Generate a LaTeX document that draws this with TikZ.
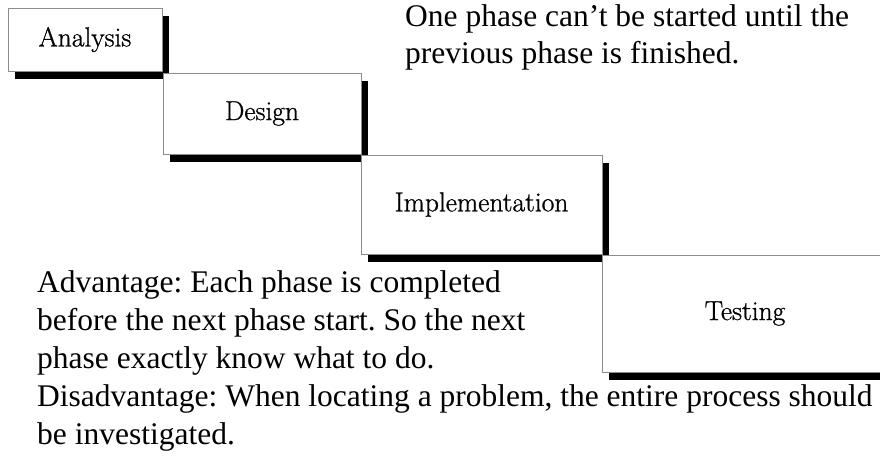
\documentclass[tikz,border=0pt]{standalone}
\usepackage{fontspec}
\setmainfont{Liberation Serif}
\newfontfamily\phasefont[FakeBold=0.9]{Latin Modern Roman}
\usetikzlibrary{shadows}

\tikzset{
  phase/.style={draw=black!45, line width=1pt, fill=white, inner sep=0pt,
    font=\phasefont\fontsize{27.5}{33}\selectfont,
    drop shadow={shadow xshift=7pt, shadow yshift=-7.5pt, opacity=1, fill=black}},
  note/.style={anchor=base west, inner sep=0pt,
    font=\fontsize{31.5}{37.5}\selectfont\frenchspacing}
}

\begin{document}
\begin{tikzpicture}[x=1pt, y=-1pt]
  \useasboundingbox (0,0) rectangle (880,455);
  \clip (0,0) rectangle (880,455);

  % the four phases of the waterfall, stepping down to the right
  \node[phase, minimum width=154pt, minimum height=63pt]  (ana)  at (85,39.5)    {Analysis};
  \node[phase, minimum width=198pt, minimum height=81pt]  (des)  at (262,113.5)  {Design};
  \node[phase, minimum width=241pt, minimum height=99pt]  (impl) at (481.5,204.5){Implementation};
  \node[phase, minimum width=286pt, minimum height=117pt] (test) at (745,313.5)  {Testing};

  % remark on sequencing
  \node[note] (rule1) at (405,26.5) {One phase can’t be started until the};
  \node[note] (rule2) at (405,63)   {previous phase is finished.};

  % advantages and disadvantages
  \node[note] (adv1) at (37,292)   {Advantage: Each phase is completed};
  \node[note] (adv2) at (37,330)   {before the next phase start. So the next};
  \node[note] (adv3) at (37,368)   {phase exactly know what to do.};
  \node[note] (dis1) at (37,406)   {Disadvantage: When locating a problem, the entire process should};
  \node[note] (dis2) at (37,444)   {be investigated.};
\end{tikzpicture}
\end{document}
